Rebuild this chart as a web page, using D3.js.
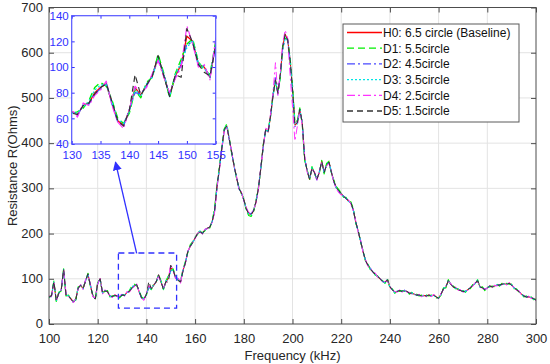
<!DOCTYPE html>
<html><head><meta charset="utf-8">
<script src="https://cdn.jsdelivr.net/npm/d3@7"></script>
<style>body{margin:0;background:#fff}svg{display:block}text{font-family:"Liberation Sans",Arial,Helvetica,sans-serif}</style>
</head><body><svg id="c" width="550" height="364"></svg>
<script>
// ---------- data ----------
const freqStart = 100, freqEnd = 300, freqStep = 1;
const freq = d3.range(freqStart, freqEnd + freqStep, freqStep);
const seriesNames = ["H0: 6.5 circle (Baseline)", "D1: 5.5circle", "D2: 4.5circle", "D3: 3.5circle", "D4: 2.5circle", "D5: 1.5circle"];
const H0 = [
60,62,92,52,68,75,120,64,62,56,
48,55,80,86,78,96,110,86,62,56,
90,100,68,74,72,62,60,64,62,60,
65,63,70,72,80,84,87,72,58,55,
66,84,78,86,93,108,93,78,93,102,
124,120,102,100,92,118,135,160,172,180,
190,200,205,200,208,212,214,226,250,305,
345,390,430,438,410,380,350,325,300,290,
275,255,244,242,250,270,300,345,395,430,
425,460,505,540,510,550,615,640,630,585,
520,440,445,475,445,365,340,320,345,335,
320,335,360,335,352,358,335,315,302,295,
289,282,278,272,268,252,225,205,182,160,
140,130,122,115,110,105,100,94,92,98,
82,76,70,72,74,72,74,72,68,68,
66,64,64,62,63,62,64,62,64,60,
57,66,78,82,96,88,82,80,76,74,
72,72,76,80,85,90,96,82,80,76,
80,84,82,84,86,86,88,89,88,90,
86,80,76,72,66,62,60,60,58,56,
53];
const D1 = [
58,64,95,50,70,73,122,62,64,54,
50,53,82,84,80,94,112,84,64,54,
92,98,70,72,74,60,62,62,64,58,
64,65,68,74,84,88,85,74,60,56,
64,82,76,88,92,110,95,76,95,106,
118,122,104,98,94,120,138,158,175,182,
192,198,208,202,206,214,212,228,255,307,
348,392,432,442,412,378,352,322,302,288,
278,252,240,238,248,272,302,342,397,428,
428,462,508,535,512,545,618,632,628,590,
528,446,450,478,442,362,342,318,348,332,
322,333,362,332,355,360,332,318,304,297,
290,280,280,270,270,254,222,208,180,162,
138,132,120,116,108,106,98,96,90,100,
80,78,68,74,72,74,72,74,66,70,
64,66,62,64,61,64,62,64,62,58,
58,64,80,80,98,86,84,78,78,72,
74,70,78,78,87,88,98,80,82,74,
82,82,84,82,88,84,90,87,90,88,
88,78,78,70,68,60,62,58,60,54,
55];
const D2 = [
61,60,90,53,66,76,118,65,61,57,
47,56,78,87,77,97,108,87,61,57,
88,101,67,75,71,63,59,65,61,61,
66,62,71,71,79,83,88,71,57,54,
67,80,79,85,94,106,94,79,92,101,
118,119,101,101,91,117,134,161,170,181,
189,202,204,199,209,211,215,225,248,302,
343,388,428,436,408,382,348,326,298,291,
273,257,246,244,252,268,298,347,392,432,
422,462,508,545,506,556,610,628,632,580,
515,436,448,472,448,368,338,322,342,337,
318,337,357,337,350,356,337,313,300,293,
286,284,276,274,266,250,227,203,184,158,
142,128,124,114,112,104,101,93,93,97,
83,75,71,71,75,71,75,71,69,67,
67,63,65,61,64,61,65,61,65,59,
56,67,77,83,95,89,81,81,75,75,
71,73,75,81,84,91,95,83,79,77,
79,85,81,85,85,87,87,90,87,91,
85,81,75,73,65,63,59,61,57,57,
52];
const D3 = [
59,63,93,51,69,74,121,63,63,55,
49,54,81,85,79,95,111,85,63,55,
91,99,69,73,73,61,61,63,63,59,
64,64,69,73,82,86,86,73,59,56,
65,83,77,87,92,107,94,77,94,104,
115,121,103,99,93,119,136,159,173,179,
191,199,206,201,207,213,213,227,252,303,
346,391,431,439,411,379,351,324,301,289,
276,254,243,241,251,271,301,344,393,429,
427,458,503,538,512,546,605,636,626,588,
518,442,442,476,443,366,341,322,346,334,
321,336,358,334,353,359,334,316,301,294,
289,281,279,271,269,253,224,206,181,161,
139,131,121,116,109,106,99,95,91,99,
81,77,69,73,73,73,73,73,67,69,
65,65,63,63,62,63,63,63,63,59,
58,65,79,81,97,87,83,79,77,73,
73,71,77,79,86,89,97,81,81,75,
81,83,83,83,87,85,89,88,89,89,
87,79,77,71,67,61,61,59,59,55,
54];
const D4 = [
62,61,91,54,67,76,119,66,60,58,
47,57,79,87,76,97,109,88,60,58,
89,102,66,76,70,64,58,66,60,62,
67,61,72,70,78,82,89,70,57,52,
67,85,80,84,95,105,92,80,91,100,
132,118,100,102,90,122,133,162,171,182,
188,201,203,199,210,210,216,224,247,300,
342,387,427,437,409,383,349,327,299,292,
272,258,247,245,253,267,297,348,390,433,
430,465,512,578,505,556,622,650,632,552,
480,405,438,470,440,372,336,324,341,338,
316,338,357,338,349,355,338,312,299,290,
285,285,275,275,265,249,228,202,185,157,
143,127,125,113,113,103,102,92,94,96,
84,74,72,70,76,70,76,70,70,66,
68,62,66,60,65,60,66,60,66,60,
56,68,76,84,94,90,80,82,74,76,
70,74,74,82,83,92,94,84,78,78,
78,86,80,86,84,88,86,91,86,92,
84,82,74,74,64,64,58,62,56,58,
51];
const D5 = [
60,62,94,51,68,74,121,63,62,55,
49,54,80,85,78,95,111,85,62,55,
90,100,68,73,72,61,61,63,62,59,
64,63,70,72,79,84,87,73,58,54,
66,94,78,86,93,109,93,77,94,92,
130,119,102,96,93,116,135,160,172,180,
190,200,205,200,208,212,214,226,250,305,
345,390,430,438,410,380,350,325,300,290,
275,255,244,242,250,270,300,345,395,430,
425,462,505,540,510,552,612,642,628,584,
520,440,445,475,445,365,340,320,345,335,
320,335,360,335,352,358,335,315,302,295,
288,282,278,272,268,252,225,205,182,160,
140,130,122,115,110,105,100,94,92,98,
82,76,70,72,74,72,74,72,68,68,
66,64,64,62,63,62,64,62,64,60,
57,66,78,82,96,88,82,80,76,74,
72,72,76,80,85,90,96,82,80,76,
80,84,82,84,86,86,88,89,88,90,
86,80,76,72,66,62,60,60,58,56,
53];
const seriesValues = [H0, D1, D2, D3, D4, D5];
const xTicks = [100,120,140,160,180,200,220,240,260,280,300];
const yTicks = [0,100,200,300,400,500,600,700];
const insetXTicks = [130,135,140,145,150,155];
const insetYTicks = [40,60,80,100,120,140];
const zoomBox = {f0: 128.5, f1: 152.4, r0: 35, r1: 157};
const arrowFrom = {f: 136, r: 156}, arrowTo = {f: 127.3, r: 358};

// ---------- styles ----------
const colors = ["#ff0000", "#00f000", "#4848ff", "#00e5e5", "#ff33ff", "#333333"];
const dashes = [null, "7,4", "8,3,2,3", "2,2", "8,3,2,3", "6,4"];
const widths = [1.1, 1.2, 1, 1.1, 1, 1];
const axisColor = "#4d4d4d", textColor = "#262626", gridColor = "#e3e3e3", blue = "#3030ff";

const svg = d3.select("#c");
const L = 49, R = 536, T = 7.5, B = 324;
const x = d3.scaleLinear().domain([100, 300]).range([L, R]);
const y = d3.scaleLinear().domain([0, 700]).range([B, T]);

// grid
const grid = svg.append("g");
grid.selectAll(".gx").data(xTicks.slice(1, -1)).join("line")
  .attr("x1", d => x(d)).attr("x2", d => x(d)).attr("y1", T).attr("y2", B)
  .attr("stroke", gridColor).attr("stroke-width", 1);
grid.selectAll(".gy").data(yTicks.slice(1, -1)).join("line")
  .attr("y1", d => y(d)).attr("y2", d => y(d)).attr("x1", L).attr("x2", R)
  .attr("stroke", gridColor).attr("stroke-width", 1);

// clip
svg.append("clipPath").attr("id", "mainClip").append("rect")
  .attr("x", L).attr("y", T).attr("width", R - L).attr("height", B - T);

const line = d3.line().x((d, i) => x(freq[i])).y(d => y(d));
const gLines = svg.append("g").attr("clip-path", "url(#mainClip)");
seriesValues.forEach((vals, k) => {
  gLines.append("path").datum(vals).attr("d", line)
    .attr("fill", "none").attr("stroke", colors[k]).attr("stroke-width", widths[k])
    .attr("stroke-dasharray", dashes[k]).attr("stroke-linejoin", "round");
});

// axes
function styleAxis(g, showLabels) {
  g.select(".domain").remove();
  g.selectAll(".tick line").attr("stroke", axisColor);
  g.selectAll(".tick text").attr("fill", textColor).style("font-size", "13px");
  if (!showLabels) g.selectAll(".tick text").remove();
}
svg.append("g").attr("transform", `translate(0,${B})`)
  .call(d3.axisBottom(x).tickValues(xTicks).tickSize(-5).tickPadding(10).tickFormat(d3.format("d")))
  .call(g => styleAxis(g, true));
svg.append("g").attr("transform", `translate(0,${T})`)
  .call(d3.axisTop(x).tickValues(xTicks).tickSize(-5))
  .call(g => styleAxis(g, false));
svg.append("g").attr("transform", `translate(${L},0)`)
  .call(d3.axisLeft(y).tickValues(yTicks).tickSize(-5).tickPadding(6).tickFormat(d3.format("d")))
  .call(g => styleAxis(g, true))
  .call(g => g.selectAll(".tick text").attr("dy", "0.28em"));
svg.append("g").attr("transform", `translate(${R},0)`)
  .call(d3.axisRight(y).tickValues(yTicks).tickSize(-5))
  .call(g => styleAxis(g, false));
svg.append("rect").attr("x", L).attr("y", T).attr("width", R - L).attr("height", B - T)
  .attr("fill", "none").attr("stroke", axisColor).attr("stroke-width", 1);

svg.append("text").attr("x", (L + R) / 2).attr("y", 360).attr("text-anchor", "middle")
  .attr("fill", textColor).style("font-size", "13px").text("Frequency (kHz)");
svg.append("text").attr("transform", `translate(17,${(T + B) / 2}) rotate(-90)`)
  .attr("text-anchor", "middle").attr("fill", textColor).style("font-size", "13px")
  .text("Resistance R(Ohms)");

// zoom box + arrow
svg.append("rect").attr("x", x(zoomBox.f0)).attr("y", y(zoomBox.r1))
  .attr("width", x(zoomBox.f1) - x(zoomBox.f0)).attr("height", y(zoomBox.r0) - y(zoomBox.r1))
  .attr("fill", "none").attr("stroke", blue).attr("stroke-width", 1.3).attr("stroke-dasharray", "6,4");
svg.append("defs").append("marker").attr("id", "ah").attr("viewBox", "0 0 10 10")
  .attr("refX", 9).attr("refY", 5).attr("markerWidth", 9).attr("markerHeight", 9)
  .attr("markerUnits", "userSpaceOnUse").attr("orient", "auto")
  .append("path").attr("d", "M0,0 L10,5 L0,10 Z").attr("fill", blue);
svg.append("line").attr("x1", x(arrowFrom.f)).attr("y1", y(arrowFrom.r))
  .attr("x2", x(arrowTo.f)).attr("y2", y(arrowTo.r))
  .attr("stroke", blue).attr("stroke-width", 1.3).attr("marker-end", "url(#ah)");

// inset
const iL = 71.7, iR = 215.7, iT = 15.7, iB = 144;
const xi = d3.scaleLinear().domain([130, 155]).range([iL, iR]);
const yi = d3.scaleLinear().domain([40, 140]).range([iB, iT]);
svg.append("rect").attr("x", iL).attr("y", iT).attr("width", iR - iL).attr("height", iB - iT).attr("fill", "#fff");
svg.append("clipPath").attr("id", "insetClip").append("rect")
  .attr("x", iL).attr("y", iT).attr("width", iR - iL).attr("height", iB - iT);
const lineI = d3.line().defined((d, i) => freq[i] >= 129 && freq[i] <= 156)
  .x((d, i) => xi(freq[i])).y(d => yi(d));
const gI = svg.append("g").attr("clip-path", "url(#insetClip)");
seriesValues.forEach((vals, k) => {
  gI.append("path").datum(vals).attr("d", lineI)
    .attr("fill", "none").attr("stroke", colors[k]).attr("stroke-width", widths[k] + 0.2)
    .attr("stroke-dasharray", dashes[k]).attr("stroke-linejoin", "round");
});
function styleInset(g, showLabels) {
  g.select(".domain").remove();
  g.selectAll(".tick line").attr("stroke", blue);
  g.selectAll(".tick text").attr("fill", blue).style("font-size", "11.5px");
  if (!showLabels) g.selectAll(".tick text").remove();
}
svg.append("g").attr("transform", `translate(0,${iB})`)
  .call(d3.axisBottom(xi).tickValues(insetXTicks).tickSize(-3).tickPadding(7))
  .call(g => styleInset(g, true));
svg.append("g").attr("transform", `translate(0,${iT})`)
  .call(d3.axisTop(xi).tickValues(insetXTicks).tickSize(-3))
  .call(g => styleInset(g, false));
svg.append("g").attr("transform", `translate(${iL},0)`)
  .call(d3.axisLeft(yi).tickValues(insetYTicks).tickSize(-3).tickPadding(3))
  .call(g => styleInset(g, true));
svg.append("g").attr("transform", `translate(${iR},0)`)
  .call(d3.axisRight(yi).tickValues(insetYTicks).tickSize(-3))
  .call(g => styleInset(g, false));
svg.append("rect").attr("x", iL).attr("y", iT).attr("width", iR - iL).attr("height", iB - iT)
  .attr("fill", "none").attr("stroke", "#5555ff").attr("stroke-width", 1.2);

// legend
const lgX = 343, lgY = 24, lgW = 176, lgH = 98, rowH = 15.7;
const lg = svg.append("g");
lg.append("rect").attr("x", lgX).attr("y", lgY).attr("width", lgW).attr("height", lgH)
  .attr("fill", "#fff").attr("stroke", "#5a5a5a").attr("stroke-width", 1);
seriesNames.forEach((name, k) => {
  const cy = lgY + 8.5 + k * rowH;
  lg.append("line").attr("x1", lgX + 4).attr("x2", lgX + 39).attr("y1", cy).attr("y2", cy)
    .attr("stroke", colors[k]).attr("stroke-width", k === 0 ? 1.6 : 1.3).attr("stroke-dasharray", dashes[k]);
  lg.append("text").attr("x", lgX + 40).attr("y", cy).attr("dy", "0.36em")
    .attr("fill", "#111").style("font-size", "12px").text(name);
});
</script></body></html>
